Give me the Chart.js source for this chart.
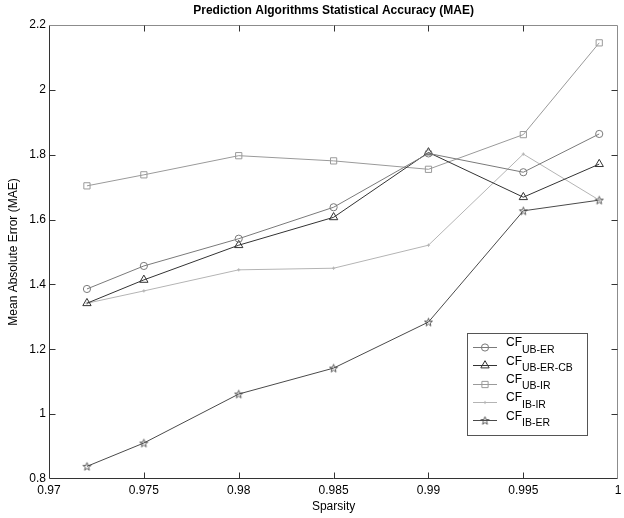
<!DOCTYPE html>
<html>
<head>
<meta charset="utf-8">
<style>
  html, body { margin: 0; padding: 0; background: #fff; }
  canvas { display: block; }
</style>
<script src="https://cdn.jsdelivr.net/npm/chart.js@4.4.0/dist/chart.umd.min.js"></script>
</head>
<body>
<canvas id="chart" width="624" height="518"></canvas>
<script>
// values
const sparsity = [0.972, 0.975, 0.98, 0.985, 0.99, 0.995, 0.999];
const cfUbEr   = [1.386, 1.457, 1.541, 1.638, 1.804, 1.746, 1.864];
const cfUbErCb = [1.342, 1.414, 1.521, 1.607, 1.807, 1.669, 1.771];
const cfUbIr   = [1.704, 1.738, 1.797, 1.781, 1.755, 1.862, 2.145];
const cfIbIr   = [1.342, 1.380, 1.445, 1.450, 1.521, 1.802, 1.660];
const cfIbEr   = [0.839, 0.911, 1.062, 1.142, 1.284, 1.627, 1.660];
const seriesNames = ['UB-ER', 'UB-ER-CB', 'UB-IR', 'IB-IR', 'IB-ER'];

const FONT = '"Liberation Sans", Arial, sans-serif';

/* small pentagram marker, matlab style */
function pentagram(color) {
  const c = document.createElement('canvas');
  c.width = 11; c.height = 11;
  const g = c.getContext('2d');
  g.strokeStyle = color; g.lineWidth = 0.9;
  g.beginPath();
  for (let i = 0; i < 10; i += 1) {
    const r = i % 2 ? 1.7 : 4.2;
    const a = -Math.PI / 2 + i * Math.PI / 5;
    const px = 5.5 + r * Math.cos(a), py = 5.9 + r * Math.sin(a);
    if (i) g.lineTo(px, py); else g.moveTo(px, py);
  }
  g.closePath(); g.stroke();
  return c;
}

const styles = [
  { color: '#7a7a7a', point: 'circle', radius: 3.6 },
  { color: '#333333', point: 'triangle', radius: 4.8 },
  { color: '#9a9a9a', point: 'rect', radius: 4.4 },
  { color: '#b4b4b4', point: 'cross', radius: 1.6 },
  { color: '#4a4a4a', point: pentagram('#4a4a4a'), radius: 4 },
];
const values = [cfUbEr, cfUbErCb, cfUbIr, cfIbIr, cfIbEr];

const datasets = values.map((vals, i) => ({
  label: 'CF ' + seriesNames[i],
  data: vals.map((v, j) => ({ x: sparsity[j], y: v })),
  borderColor: styles[i].color,
  backgroundColor: 'rgba(0,0,0,0)',
  pointBorderColor: styles[i].color,
  pointBackgroundColor: 'rgba(0,0,0,0)',
  pointStyle: styles[i].point,
  pointRadius: styles[i].radius,
  pointBorderWidth: 1,
  borderWidth: 1,
  tension: 0,
}));

/* box around plot area + inward tick marks on all four sides */
const framePlugin = {
  id: 'frame',
  afterDatasetsDraw(chart) {
    const { ctx, chartArea: a } = chart;
    const xs = chart.scales.x, ys = chart.scales.y;
    const L = Math.round(a.left) + 0.5, R = Math.round(a.right) - 0.5;
    const T = Math.round(a.top) + 0.5, B = Math.round(a.bottom) - 0.5;
    ctx.save();
    ctx.lineWidth = 1;
    ctx.strokeStyle = '#8c8c8c';
    ctx.beginPath();
    ctx.moveTo(L, T); ctx.lineTo(R, T); ctx.lineTo(R, B);
    ctx.stroke();
    ctx.strokeStyle = '#333';
    ctx.beginPath();
    ctx.moveTo(L, T); ctx.lineTo(L, B); ctx.lineTo(R, B);
    ctx.stroke();
    const len = 6;
    ctx.beginPath();
    xs.ticks.forEach((t) => {
      const px = Math.round(xs.getPixelForValue(t.value)) + 0.5;
      if (px <= L + 1 || px >= R - 1) return;
      ctx.moveTo(px, B); ctx.lineTo(px, B - len);
      ctx.moveTo(px, T); ctx.lineTo(px, T + len);
    });
    ys.ticks.forEach((t) => {
      const py = Math.round(ys.getPixelForValue(t.value)) + 0.5;
      if (py <= T + 1 || py >= B - 1) return;
      ctx.moveTo(L, py); ctx.lineTo(L + len, py);
      ctx.moveTo(R, py); ctx.lineTo(R - len, py);
    });
    ctx.stroke();
    ctx.restore();
  },
};

/* title centred over the plot area */
const titlePlugin = {
  id: 'plotTitle',
  afterDraw(chart) {
    const { ctx, chartArea: a } = chart;
    ctx.save();
    ctx.font = 'bold 12px ' + FONT;
    ctx.fillStyle = '#000';
    ctx.textAlign = 'center';
    ctx.textBaseline = 'middle';
    ctx.fillText('Prediction Algorithms Statistical Accuracy (MAE)', (a.left + a.right) / 2, 11);
    ctx.restore();
  },
};

/* legend box with subscripted names */
const legendPlugin = {
  id: 'subLegend',
  afterDraw(chart) {
    const { ctx } = chart;
    const bx = 467.5, by = 333.5, bw = 120, bh = 102;
    ctx.save();
    ctx.fillStyle = '#fff';
    ctx.fillRect(bx, by, bw, bh);
    ctx.strokeStyle = '#555';
    ctx.lineWidth = 1;
    ctx.strokeRect(bx, by, bw, bh);
    chart.data.datasets.forEach((ds, i) => {
      const y = 347 + i * 18.3;
      ctx.strokeStyle = ds.borderColor;
      ctx.beginPath();
      ctx.moveTo(473, Math.round(y) + 0.5); ctx.lineTo(497, Math.round(y) + 0.5);
      ctx.stroke();
      ctx.fillStyle = 'rgba(0,0,0,0)';
      Chart.helpers.drawPoint(ctx, {
        pointStyle: ds.pointStyle, radius: ds.pointRadius, rotation: 0, borderWidth: 1,
      }, 485, Math.round(y) + 0.5);
      ctx.fillStyle = '#000';
      ctx.textBaseline = 'middle';
      ctx.textAlign = 'left';
      ctx.font = '12px ' + FONT;
      ctx.fillText('CF', 506, y - 4);
      const w = ctx.measureText('CF').width;
      ctx.font = '10.5px ' + FONT;
      ctx.fillText(seriesNames[i], 506 + w, y + 3);
    });
    ctx.restore();
  },
};

new Chart(document.getElementById('chart'), {
  type: 'line',
  data: { datasets },
  options: {
    responsive: false,
    animation: false,
    devicePixelRatio: 1,
    layout: { padding: { top: 25, right: 2, left: 0, bottom: 0 } },
    plugins: {
      legend: { display: false },
      title: { display: false },
      tooltip: { enabled: false },
    },
    scales: {
      x: {
        type: 'linear',
        min: 0.97,
        max: 1,
        grid: { drawOnChartArea: false, drawTicks: false },
        border: { display: false },
        ticks: {
          stepSize: 0.005,
          autoSkip: false,
          maxRotation: 0,
          padding: 4,
          color: '#000',
          font: { family: FONT, size: 12 },
          callback: (v) => String(Number(Number(v).toFixed(3))),
        },
        title: {
          display: true, text: 'Sparsity', color: '#000',
          font: { family: FONT, size: 12 }, padding: { top: 0, bottom: 4 },
        },
        afterFit: (scale) => { scale.height = 39; scale.paddingRight = 0; scale.paddingLeft = 0; },
      },
      y: {
        type: 'linear',
        min: 0.8,
        max: 2.2,
        grid: { drawOnChartArea: false, drawTicks: false },
        border: { display: false },
        ticks: {
          stepSize: 0.2,
          padding: 3,
          color: '#000',
          font: { family: FONT, size: 12 },
          callback: (v) => String(Number(Number(v).toFixed(1))),
        },
        title: {
          display: true, text: 'Mean Absolute Error (MAE)', color: '#000',
          font: { family: FONT, size: 12 }, padding: { top: 6, bottom: 0 },
        },
        afterFit: (scale) => { scale.width = 49; scale.paddingTop = 0; scale.paddingBottom = 0; },
      },
    },
  },
  plugins: [framePlugin, titlePlugin, legendPlugin],
});
</script>
</body>
</html>
